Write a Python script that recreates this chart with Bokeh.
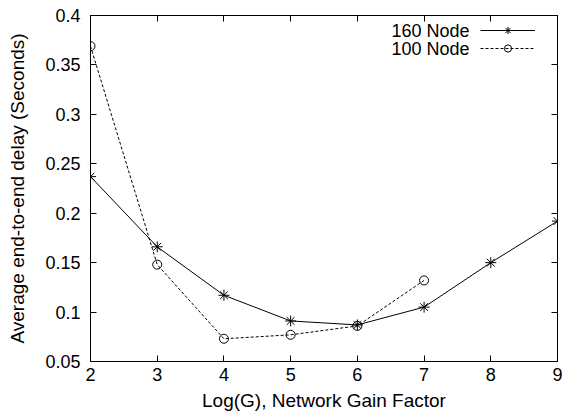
from bokeh.plotting import figure
from bokeh.models import Range1d, LinearAxis, Legend, LegendItem, Label, FixedTicker
from bokeh.core.properties import value
from bokeh.embed import file_html
from bokeh.resources import INLINE

# data
x_160 = [2, 3, 4, 5, 6, 7, 8, 9]
y_160 = [0.237, 0.166, 0.117, 0.091, 0.087, 0.105, 0.150, 0.192]
x_100 = [2, 3, 4, 5, 6, 7]
y_100 = [0.369, 0.148, 0.073, 0.077, 0.086, 0.132]
x_ticks = [2, 3, 4, 5, 6, 7, 8, 9]
y_ticks = [0.05, 0.1, 0.15, 0.2, 0.25, 0.3, 0.35, 0.4]
labels = ["160 Node", "100 Node"]

FONT = "Liberation Sans"

p = figure(width=565, height=417, output_backend="svg", toolbar_location=None,
           x_range=Range1d(2, 9), y_range=Range1d(0.05, 0.4),
           min_border_left=90, min_border_right=8, min_border_top=15, min_border_bottom=56)
p.xgrid.visible = False
p.ygrid.visible = False
p.outline_line_color = "black"
p.outline_line_width = 1
p.background_fill_color = "white"
p.border_fill_color = "white"

def style_axis(ax, show_labels, ticks):
    ax.ticker = FixedTicker(ticks=ticks)
    ax.axis_line_color = "black"
    ax.axis_line_width = 1
    ax.major_tick_in = 6
    ax.major_tick_out = 0
    ax.minor_tick_line_color = None
    ax.major_tick_line_color = "black"
    ax.major_label_text_font = FONT
    ax.major_label_text_color = "black"
    if show_labels:
        ax.major_label_text_font_size = "18px"
    else:
        ax.major_label_overrides = {t: "" for t in ticks}
        ax.major_label_text_font_size = "1px"
        ax.major_label_standoff = 0

style_axis(p.xaxis[0], True, x_ticks)
style_axis(p.yaxis[0], True, y_ticks)
p.xaxis[0].major_label_standoff = 6
p.yaxis[0].major_label_standoff = 10
p.xaxis[0].axis_label = "Log(G), Network Gain Factor"
p.yaxis[0].axis_label = "Average end-to-end delay (Seconds)"
for ax in (p.xaxis[0], p.yaxis[0]):
    ax.axis_label_text_font = FONT
    ax.axis_label_text_font_size = "19px"
    ax.axis_label_text_font_style = "normal"
    ax.axis_label_text_color = "black"
p.xaxis[0].axis_label_standoff = 6
p.yaxis[0].axis_label_standoff = 14

top_ax = LinearAxis()
right_ax = LinearAxis()
style_axis(top_ax, False, x_ticks)
style_axis(right_ax, False, y_ticks)
p.add_layout(top_ax, "above")
p.add_layout(right_ax, "right")

l1 = p.line(x_160, y_160, line_color="black", line_width=1)
s1 = p.scatter(x_160, y_160, marker="asterisk", size=11, line_color="black", line_width=1)
l2 = p.line(x_100, y_100, line_color="black", line_width=1, line_dash="3 2")
s2 = p.scatter(x_100, y_100, marker="circle", size=9, line_color="black",
               fill_color=None, line_width=1)

legend = Legend(items=[LegendItem(label=value(""), renderers=[l1, s1]),
                       LegendItem(label=value(""), renderers=[l2, s2])],
                location=(390, 304), padding=0, margin=0, spacing=0,
                glyph_width=55, glyph_height=18, label_height=18,
                label_width=0, label_standoff=0, label_text_font_size="18px",
                border_line_color=None, background_fill_alpha=0)
p.add_layout(legend, "center")

for i, txt in enumerate(labels):
    p.add_layout(Label(x=379, y=331 - 18 * i, x_units="screen", y_units="screen",
                       text=txt, text_align="right", text_baseline="middle",
                       text_font=FONT, text_font_size="18px", text_color="black"))

open("out.html", "w").write(file_html(p, INLINE))
